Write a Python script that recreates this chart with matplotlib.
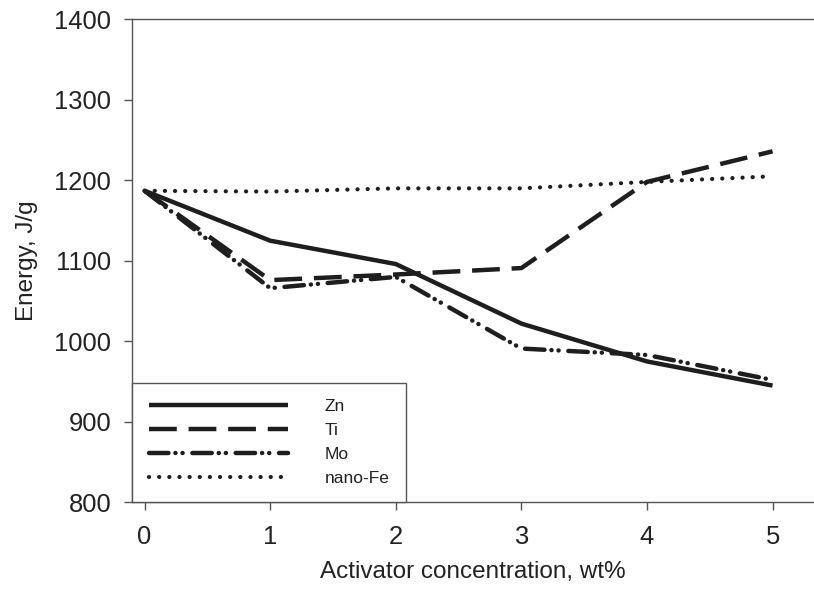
import matplotlib
matplotlib.use("Agg")
import matplotlib.pyplot as plt

plt.rcParams['font.family'] = ['Liberation Sans', 'DejaVu Sans']
plt.rcParams['lines.scale_dashes'] = False

conc = [0, 1, 2, 3, 4, 5]
zn = [1187, 1125, 1096, 1022, 975, 945]
ti = [1187, 1076, 1083, 1091, 1198, 1236]
mo = [1187, 1066, 1080, 991, 983, 952]
nano_fe = [1187, 1186, 1190, 1190, 1198, 1205]

labels = ['Zn', 'Ti', 'Mo', 'nano-Fe']
yticks = [800, 900, 1000, 1100, 1200, 1300, 1400]

fig = plt.figure(figsize=(8.14, 5.92), dpi=100)
ax = fig.add_axes([0.1622, 0.1515, 0.8378, 0.8159])

c = '#1e1e1e'
ax.plot(conc, zn, color=c, lw=3.2, label=labels[0], solid_capstyle='butt')
ax.plot(conc, ti, color=c, lw=3.2, label=labels[1],
        linestyle=(0, (20, 8.5)), dash_capstyle='butt')
ax.plot(conc, mo, color=c, lw=3.2, label=labels[2],
        linestyle=(0, (14, 5, 0.1, 5, 0.1, 7)), dash_capstyle='round')
ax.plot(conc, nano_fe, color=c, lw=3.0, label=labels[3],
        linestyle=(0, (0.1, 7.2)), dash_capstyle='round')

ax.set_xlim(-0.1, 5.33)
ax.set_ylim(800, 1400)
ax.set_xticks(conc)
ax.set_yticks(yticks)
ax.spines['right'].set_visible(False)
for s in ['left', 'bottom', 'top']:
    ax.spines[s].set_color('#555555')
    ax.spines[s].set_linewidth(1.0)
ax.tick_params(direction='out', length=6, width=1.0, color='#555555',
               labelsize=18.4, labelcolor='#222222', pad=10)
ax.tick_params(axis='y', pad=9)

ax.set_xlabel('Activator concentration, wt%', fontsize=17.5, color='#222222', labelpad=9)
ax.set_ylabel('Energy, J/g', fontsize=17.5, color='#222222', labelpad=12)

leg = ax.legend(loc='lower left', bbox_to_anchor=(0, 0), borderaxespad=0,
                fontsize=12.5, handlelength=8.06, handletextpad=2.1,
                labelspacing=0.5, borderpad=0.95, fancybox=False,
                framealpha=1, edgecolor='#555555')
leg.get_frame().set_linewidth(1.0)
for t in leg.get_texts():
    t.set_color('#222222')

fig.savefig('out.png', dpi=100)
